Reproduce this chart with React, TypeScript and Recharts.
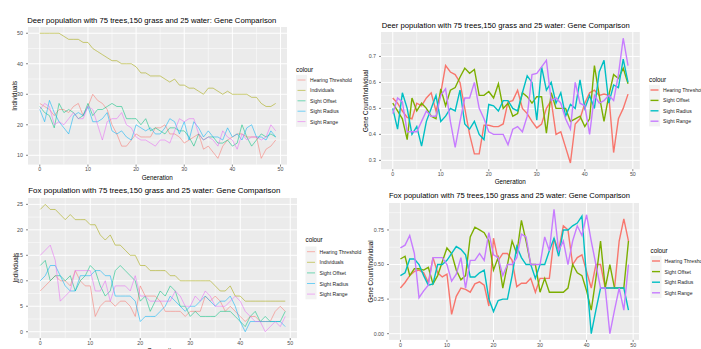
import { LineChart, Line, XAxis, YAxis, CartesianGrid } from "recharts"

const FONT = "'Liberation Sans', Arial, sans-serif"

const generation = [
  0, 1, 2, 3, 4, 5, 6, 7, 8, 9, 10, 11, 12, 13, 14, 15, 16, 17, 18, 19, 20, 21, 22, 23, 24,
  25, 26, 27, 28, 29, 30, 31, 32, 33, 34, 35, 36, 37, 38, 39, 40, 41, 42, 43, 44, 45, 46, 47, 48, 49,
]
const xTicks = [0, 10, 20, 30, 40, 50]
const xMinor = [5, 15, 25, 35, 45]

const countLabels = ["Hearing Threshold", "Individuals", "Sight Offset", "Sight Radius", "Sight Range"]
const countColors = ["#F8766D", "#A3A500", "#00BF7D", "#00B0F6", "#E76BF3"]
const geneLabels = ["Hearing Threshold", "Sight Offset", "Sight Radius", "Sight Range"]
const geneColors = ["#F8766D", "#7CAE00", "#00BFC4", "#C77CFF"]

// deer, counts
const deerHearing = [27, 26, 25, 23, 25, 25, 24, 26, 27, 23, 26, 30, 28, 27, 25, 20, 17, 13, 13, 15, 17, 16, 16, 16, 19, 19, 20, 17, 17, 16, 14, 15, 16, 17, 12, 13, 11, 9, 13, 15, 16, 17, 17, 16, 16, 16, 9, 12, 13, 15]
const deerIndividuals = [50, 50, 50, 50, 50, 49, 48, 48, 48, 47, 47, 45, 44, 43, 42, 41, 41, 40, 40, 40, 39, 37, 37, 36, 36, 36, 35, 34, 35, 33, 33, 32, 32, 31, 30, 32, 32, 31, 30, 31, 30, 30, 30, 30, 29, 29, 27, 26, 26, 27]
const deerOffset = [26, 24, 23, 19, 27, 24, 25, 24, 22, 23, 27, 23, 25, 25, 26, 27, 26, 26, 22, 22, 22, 20, 22, 18, 19, 18, 17, 19, 19, 18, 18, 16, 13, 17, 15, 16, 16, 14, 14, 15, 13, 14, 20, 16, 13, 15, 17, 16, 17, 16]
const deerRadius = [25, 21, 28, 24, 21, 19, 17, 23, 24, 23, 26, 21, 21, 22, 24, 18, 17, 18, 16, 15, 20, 19, 18, 19, 17, 17, 19, 22, 21, 17, 21, 15, 21, 19, 16, 18, 16, 16, 15, 19, 16, 17, 15, 19, 20, 16, 16, 15, 18, 16]
const deerRange = [25, 27, 26, 20, 21, 20, 22, 24, 22, 22, 26, 25, 20, 15, 21, 22, 22, 24, 20, 19, 16, 15, 15, 14, 13, 15, 15, 14, 18, 22, 21, 22, 22, 17, 15, 16, 15, 13, 18, 16, 15, 12, 17, 15, 16, 16, 15, 16, 20, 18]

// deer, gene count per individual
const deerHearingGene = [0.54, 0.52, 0.49, 0.465, 0.46, 0.52, 0.51, 0.54, 0.56, 0.49, 0.56, 0.665, 0.64, 0.63, 0.6, 0.5, 0.4, 0.325, 0.325, 0.435, 0.435, 0.43, 0.43, 0.44, 0.525, 0.53, 0.57, 0.5, 0.48, 0.45, 0.425, 0.44, 0.5, 0.53, 0.4, 0.41, 0.35, 0.29, 0.44, 0.46, 0.52, 0.56, 0.57, 0.55, 0.555, 0.55, 0.33, 0.46, 0.5, 0.555]
const deerOffsetGene = [0.52, 0.49, 0.46, 0.38, 0.54, 0.49, 0.52, 0.5, 0.47, 0.46, 0.575, 0.51, 0.57, 0.58, 0.62, 0.655, 0.635, 0.65, 0.55, 0.55, 0.565, 0.54, 0.595, 0.5, 0.52, 0.47, 0.48, 0.56, 0.545, 0.52, 0.545, 0.545, 0.405, 0.56, 0.5, 0.5, 0.5, 0.45, 0.46, 0.47, 0.43, 0.46, 0.665, 0.55, 0.45, 0.55, 0.63, 0.615, 0.655, 0.595]
const deerRadiusGene = [0.5, 0.42, 0.56, 0.5, 0.4, 0.43, 0.355, 0.45, 0.5, 0.55, 0.45, 0.47, 0.5, 0.49, 0.57, 0.44, 0.42, 0.45, 0.4, 0.38, 0.515, 0.51, 0.49, 0.53, 0.53, 0.5, 0.49, 0.56, 0.625, 0.6, 0.455, 0.66, 0.57, 0.6, 0.52, 0.56, 0.47, 0.515, 0.5, 0.61, 0.5, 0.55, 0.5, 0.64, 0.685, 0.52, 0.59, 0.58, 0.69, 0.6]
const deerRangeGene = [0.48, 0.54, 0.525, 0.41, 0.41, 0.41, 0.45, 0.49, 0.47, 0.47, 0.55, 0.575, 0.45, 0.35, 0.45, 0.54, 0.54, 0.6, 0.5, 0.46, 0.41, 0.4, 0.4, 0.4, 0.36, 0.42, 0.43, 0.41, 0.47, 0.63, 0.635, 0.66, 0.685, 0.53, 0.54, 0.52, 0.46, 0.42, 0.6, 0.52, 0.51, 0.4, 0.55, 0.52, 0.53, 0.55, 0.53, 0.63, 0.77, 0.665]

// fox, counts
const foxHearing = [8, 9, 10, 11, 10, 10, 9, 12, 10, 9, 9, 3, 5, 6, 6, 5, 6, 6, 5, 3, 9, 7, 7, 7, 6, 4, 4, 4, 4, 3, 4, 4, 4, 7, 6, 7, 6, 4, 5, 4, 3, 2, 3, 3, 2, 2, 2, 4, 5, 4]
const foxIndividuals = [24, 25, 24, 24, 23, 22, 23, 22, 22, 22, 21, 21, 19, 18, 19, 17, 17, 16, 15, 15, 13, 13, 12, 12, 12, 12, 11, 11, 10, 10, 10, 10, 10, 10, 10, 9, 8, 8, 9, 7, 7, 6, 6, 6, 6, 6, 6, 6, 6, 6]
const foxOffset = [13, 14, 10, 11, 11, 10, 11, 8, 10, 11, 13, 12, 9, 7, 8, 12, 13, 12, 11, 10, 6, 7, 4, 6, 8, 7, 9, 8, 5, 5, 3, 4, 3, 3, 3, 3, 4, 4, 4, 3, 2, 1, 3, 4, 2, 3, 2, 2, 2, 4]
const foxRadius = [10, 11, 13, 13, 11, 9, 8, 8, 11, 11, 11, 12, 12, 11, 11, 7, 7, 7, 7, 6, 2, 3, 3, 3, 4, 5, 7, 6, 5, 4, 5, 5, 6, 7, 6, 5, 6, 6, 7, 5, 2, 0, 2, 2, 2, 2, 2, 2, 2, 1]
const foxRange = [15, 16, 17, 14, 6, 7, 8, 12, 12, 12, 12, 8, 8, 10, 6, 9, 9, 9, 8, 11, 7, 7, 6, 6, 6, 6, 6, 8, 7, 5, 5, 7, 6, 8, 7, 5, 5, 5, 6, 7, 6, 4, 3, 2, 2, 0, 1, 2, 1, 3]

// fox, gene count per individual
const foxHearingGene = [0.33, 0.37, 0.42, 0.45, 0.46, 0.44, 0.37, 0.55, 0.44, 0.41, 0.43, 0.14, 0.27, 0.33, 0.32, 0.3, 0.36, 0.375, 0.35, 0.2, 0.69, 0.53, 0.58, 0.58, 0.53, 0.34, 0.365, 0.365, 0.4, 0.3, 0.4, 0.4, 0.4, 0.69, 0.6, 0.78, 0.75, 0.5, 0.55, 0.57, 0.45, 0.33, 0.5, 0.5, 0.33, 0.33, 0.33, 0.67, 0.83, 0.67]
const foxOffsetGene = [0.54, 0.56, 0.42, 0.47, 0.47, 0.46, 0.48, 0.36, 0.42, 0.52, 0.62, 0.58, 0.46, 0.39, 0.42, 0.7, 0.77, 0.75, 0.73, 0.67, 0.46, 0.55, 0.33, 0.5, 0.67, 0.58, 0.82, 0.67, 0.5, 0.5, 0.3, 0.4, 0.3, 0.3, 0.3, 0.3, 0.33, 0.5, 0.44, 0.42, 0.31, 0.17, 0.4, 0.67, 0.33, 0.5, 0.33, 0.33, 0.33, 0.67]
const foxRadiusGene = [0.42, 0.44, 0.54, 0.54, 0.5, 0.42, 0.35, 0.36, 0.5, 0.5, 0.53, 0.58, 0.63, 0.61, 0.57, 0.41, 0.41, 0.44, 0.46, 0.25, 0.16, 0.24, 0.25, 0.25, 0.42, 0.63, 0.55, 0.5, 0.5, 0.4, 0.5, 0.5, 0.6, 0.69, 0.56, 0.75, 0.75, 0.78, 0.8, 0.85, 0.4, 0, 0.17, 0.33, 0.33, 0.33, 0.33, 0.33, 0.33, 0.17]
const foxRangeGene = [0.62, 0.64, 0.71, 0.58, 0.26, 0.31, 0.35, 0.55, 0.55, 0.55, 0.5, 0.38, 0.43, 0.55, 0.33, 0.53, 0.53, 0.58, 0.53, 0.73, 0.57, 0.55, 0.42, 0.5, 0.5, 0.55, 0.72, 0.7, 0.5, 0.5, 0.5, 0.7, 0.6, 0.9, 0.6, 0.67, 0.5, 0.67, 0.78, 0.71, 0.86, 0.67, 0.5, 0.33, 0.33, 0, 0.17, 0.33, 0.17, 0.5]

const panels = [
  {
    title: "Deer population with 75 trees,150 grass and 25 water: Gene Comparison",
    titleX: 27.3, titleY: 22.6, titleW: 249, titleSize: 7.3,
    yLabel: "Individuals", yLabelX: 14.5, xLabelY: 177,
    plotLeft: 27.5, plotTop: 27, plotW: 259.5, plotH: 137.6,
    yDomain: [6.95, 52.05], yTicks: [10, 20, 30, 40, 50], yMinor: [15, 25, 35, 45],
    fmt: (v: number) => `${v}`,
    values: [deerHearing, deerIndividuals, deerOffset, deerRadius, deerRange],
    labels: countLabels, colors: countColors, opacity: 0.6, width: 0.9,
    legendX: 296, legendTitleY: 69, rows: [80, 90.4, 100.8, 111.2, 121.6],
  },
  {
    title: "Deer population with 75 trees,150 grass and 25 water: Gene Comparison",
    titleX: 381.7, titleY: 27.6, titleW: 248, titleSize: 7.3,
    yLabel: "Gene Count/Individual", yLabelX: 365.5, xLabelY: 181.5,
    plotLeft: 380.9, plotTop: 32.3, plotW: 258.8, plotH: 137.2,
    yDomain: [0.266, 0.794], yTicks: [0.3, 0.4, 0.5, 0.6, 0.7], yMinor: [0.35, 0.45, 0.55, 0.65, 0.75],
    fmt: (v: number) => v.toFixed(1),
    values: [deerHearingGene, deerOffsetGene, deerRadiusGene, deerRangeGene],
    labels: geneLabels, colors: geneColors, opacity: 1, width: 1.4,
    legendX: 649, legendTitleY: 79, rows: [90, 100.4, 110.8, 121.2],
  },
  {
    title: "Fox population with 75 trees,150 grass and 25 water: Gene Comparison",
    titleX: 28.3, titleY: 192.6, titleW: 252, titleSize: 7.6,
    yLabel: "Individuals", yLabelX: 15, xLabelY: 350.5,
    plotLeft: 27.75, plotTop: 197.6, plotW: 269.5, plotH: 140.1,
    yDomain: [-1.25, 26.25], yTicks: [0, 5, 10, 15, 20, 25], yMinor: [2.5, 7.5, 12.5, 17.5, 22.5],
    fmt: (v: number) => `${v}`,
    values: [foxHearing, foxIndividuals, foxOffset, foxRadius, foxRange],
    labels: countLabels, colors: countColors, opacity: 0.6, width: 0.9,
    legendX: 305.5, legendTitleY: 239, rows: [251.7, 262.3, 272.9, 283.5, 294.1],
  },
  {
    title: "Fox population with 75 trees,150 grass and 25 water: Gene Comparison",
    titleX: 389, titleY: 198.3, titleW: 241, titleSize: 7.1,
    yLabel: "Gene Count/Individual", yLabelX: 370.7, xLabelY: 0,
    plotLeft: 388.6, plotTop: 203, plotW: 250.9, plotH: 136.9,
    yDomain: [-0.045, 0.945], yTicks: [0, 0.25, 0.5, 0.75], yMinor: [0.125, 0.375, 0.625, 0.875],
    fmt: (v: number) => v.toFixed(2),
    values: [foxHearingGene, foxOffsetGene, foxRadiusGene, foxRangeGene],
    labels: geneLabels, colors: geneColors, opacity: 1, width: 1.4,
    legendX: 650.5, legendTitleY: 250, rows: [261, 271.6, 282.2, 292.8],
  },
]

type PanelCfg = (typeof panels)[number]

const Y_AXIS_W = 26
const X_AXIS_H = 10
const tickStyle = { fontSize: 5.3, fill: "#4D4D4D", fontFamily: FONT }

function Plot({ p }: { p: PanelCfg }) {
  const data = generation.map((g, i) => {
    const row: Record<string, number> = { g }
    p.values.forEach((vals, k) => (row["s" + k] = vals[i]))
    return row
  })
  return (
    <div style={{ position: "absolute", left: p.plotLeft - Y_AXIS_W, top: p.plotTop }}>
      <LineChart
        width={Y_AXIS_W + p.plotW}
        height={p.plotH + X_AXIS_H}
        data={data}
        margin={{ top: 0, right: 0, bottom: 0, left: 0 }}
      >
        <CartesianGrid
          fill="#EBEBEB"
          stroke="#FFFFFF"
          strokeWidth={0.5}
          horizontalValues={p.yMinor}
          verticalValues={xMinor}
        />
        <CartesianGrid
          stroke="#FFFFFF"
          strokeWidth={1}
          horizontalValues={p.yTicks}
          verticalValues={xTicks}
        />
        <XAxis
          dataKey="g"
          type="number"
          domain={[-2.45, 51.45]}
          ticks={xTicks}
          allowDataOverflow
          axisLine={false}
          tickSize={2}
          tickMargin={1}
          height={X_AXIS_H}
          tickLine={{ stroke: "#333333", strokeWidth: 0.6 }}
          tick={tickStyle}
          interval={0}
        />
        <YAxis
          type="number"
          domain={p.yDomain}
          ticks={p.yTicks}
          allowDataOverflow
          axisLine={false}
          width={Y_AXIS_W}
          tickSize={2}
          tickMargin={3}
          tickLine={{ stroke: "#333333", strokeWidth: 0.6 }}
          tick={tickStyle}
          tickFormatter={p.fmt}
          interval={0}
        />
        {p.values.map((_, k) => (
          <Line
            key={k}
            type="linear"
            dataKey={"s" + k}
            stroke={p.colors[k]}
            strokeOpacity={p.opacity}
            strokeWidth={p.width}
            dot={false}
            activeDot={false}
            isAnimationActive={false}
          />
        ))}
      </LineChart>
    </div>
  )
}

function Texts({ p }: { p: PanelCfg }) {
  const cx = p.plotLeft + p.plotW / 2
  const cy = p.plotTop + p.plotH / 2
  const first = p.rows[0] - 5.2
  const last = p.rows[p.rows.length - 1] + 5.2
  return (
    <g fontFamily={FONT}>
      <text
        x={p.titleX}
        y={p.titleY}
        fontSize={p.titleSize}
        textLength={p.titleW}
        lengthAdjust="spacingAndGlyphs"
        fill="#000000"
      >
        {p.title}
      </text>
      <text
        transform={`translate(${p.yLabelX},${cy}) rotate(-90)`}
        textAnchor="middle"
        dominantBaseline="central"
        fontSize={6.3}
        fill="#000000"
      >
        {p.yLabel}
      </text>
      {p.xLabelY > 0 && (
        <text x={cx} y={p.xLabelY} textAnchor="middle" dominantBaseline="central" fontSize={6.3} fill="#000000">
          Generation
        </text>
      )}
      <text x={p.legendX} y={p.legendTitleY} dominantBaseline="central" fontSize={6.3} fill="#000000">
        colour
      </text>
      <rect x={p.legendX} y={first} width={11} height={last - first} fill="#F2F2F2" />
      {p.labels.map((lab, k) => (
        <g key={lab}>
          <line
            x1={p.legendX + 1.5}
            x2={p.legendX + 9.5}
            y1={p.rows[k]}
            y2={p.rows[k]}
            stroke={p.colors[k]}
            strokeOpacity={p.opacity}
            strokeWidth={p.width}
          />
          <text x={p.legendX + 14} y={p.rows[k]} dominantBaseline="central" fontSize={5.1} fill="#1A1A1A">
            {lab}
          </text>
        </g>
      ))}
    </g>
  )
}

export default function App() {
  return (
    <div style={{ position: "absolute", left: 0, top: 0, width: 701, height: 349, background: "#FFFFFF", overflow: "hidden" }}>
      {panels.map((p, i) => (
        <Plot key={i} p={p} />
      ))}
      <svg width={701} height={349} style={{ position: "absolute", left: 0, top: 0, pointerEvents: "none" }}>
        {panels.map((p, i) => (
          <Texts key={i} p={p} />
        ))}
      </svg>
    </div>
  )
}
